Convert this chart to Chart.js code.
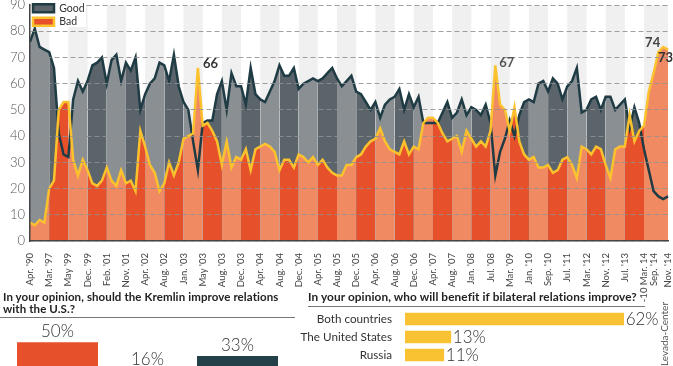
<!DOCTYPE html>
<html><head><meta charset="utf-8">
<script src="https://cdn.jsdelivr.net/npm/chart.js@4.4.1/dist/chart.umd.min.js"></script>
<style>
html,body{margin:0;padding:0;background:#fff;overflow:hidden;width:673px;height:366px;}
canvas{position:absolute;}
#main{left:0;top:0;}
#left{left:0;top:318px;}
#right{left:285px;top:308px;}
.ttl{position:absolute;font-family:Lato,'Open Sans',sans-serif;font-weight:700;color:#222;white-space:nowrap;}
#t1{left:3px;top:291px;font-size:11.5px;line-height:11.5px;letter-spacing:0.1px;}
#t2{left:308px;top:291px;font-size:11.8px;line-height:11.8px;letter-spacing:0.1px;}
.rule{position:absolute;height:1px;background:#777;}
#r1{left:0;top:317px;width:295px;}
#r2{left:308px;top:306px;width:337px;}
#src{position:absolute;left:629px;top:328px;width:70px;height:12px;line-height:12px;text-align:center;font-family:Lato,sans-serif;font-size:10px;color:#555;transform:rotate(-90deg);}
</style></head><body>
<canvas id="main" width="673" height="302"></canvas>
<div id="t1" class="ttl">In your opinion, should the Kremlin improve relations<br>with the U.S.?</div>
<div id="r1" class="rule"></div>
<canvas id="left" width="300" height="82"></canvas>
<div id="t2" class="ttl">In your opinion, who will benefit if bilateral relations improve?</div>
<div id="r2" class="rule"></div>
<canvas id="right" width="388" height="60"></canvas>
<div id="src">Levada-Center</div>
<script>
const tickLabels = ["Apr. '90","Mar. '97","May '99","Dec. '99","Feb. '01","Nov. '01","Apr. '02","Aug. '02","Jan. '03","May '03","Aug. '03","Dec. '03","Apr. '04","Aug. '04","Dec. '04","Apr. '05","Aug. '05","Dec. '05","Apr. '06","Aug. '06","Dec. '06","Apr. '07","Aug. '07","Jan. '08","Jul. '08","Mar. '09","Jan. '10","Sep. '10","Jul. '11","Mar. '12","Nov. '12","Jul. '13","7-10 Mar. 14","Sep. '14","Nov. '14"];
const tickIndex = [0,4,8,12,16,20,24,28,32,36,40,44,48,52,56,60,64,68,72,76,80,84,88,92,96,100,104,108,112,116,120,124,128,130,133];
const bandStarts = [0,4,8,12,16,20,24,28,32,36,40,44,48,52,56,60,64,68,72,76,80,84,88,92,96,100,104,108,112,116,120,124,128];

const good = [
 76,81,74,73, 72,66,41,33, 32,54,61,57, 61,67,68,70, 60,69,71,61, 68,65,70,50,
 56,60,62,68, 67,61,71,59, 53,50,38,27, 45,46,46,56, 61,50,64,59, 59,52,66,56,
 54,53,57,61, 67,63,63,66, 58,60,61,62, 61,62,64,66, 62,59,61,63, 57,56,53,50,
 53,47,52,54, 55,58,50,56, 51,55,45,45, 45,45,49,53, 47,49,54,48, 51,50,48,52,
 45,25,34,39, 46,40,48,53, 54,53,60,61, 57,62,60,54, 59,61,66,49, 50,54,55,50,
 55,55,50,52, 54,43,51,45, 35,27,19,17,16,17];
const bad = [
 7,6,8,7, 20,23,50,53, 53,31,25,31, 27,22,21,23, 28,23,21,27, 22,23,19,42,
 36,29,26,19, 22,30,25,30, 39,40,41,66, 44,45,42,38, 29,38,28,32, 31,35,27,35,
 36,37,36,34, 27,31,31,28, 33,32,30,32, 29,31,28,26, 25,25,29,29, 32,33,36,38,
 39,43,38,35, 34,33,38,33, 36,35,45,47, 47,45,41,38, 39,40,34,42, 39,36,38,36,
 42,67,52,50, 42,51,38,33, 31,32,28,28, 29,26,27,31, 32,29,24,36, 35,33,36,35,
 29,24,35,36, 36,48,38,42, 44,57,64,72,74,73];
const peakIndex = [35, 97, 132, 133];

const kremlinCats = ['A','B','C'];
const kremlinVals = [50, 16, 33];
const benefitCats = ['Both countries','The United States','Russia'];
const benefitVals = [62, 13, 11];

const categories = good.map((_, i) => { const k = tickIndex.indexOf(i); return k >= 0 ? tickLabels[k] : ''; });

const C = {lightGood:'#8a8f94', darkGood:'#5b646a', lightBad:'#f08a63', darkBad:'#e6512b',
  goodLine:'#1f3b44', badLine:'#fbc22e', stripe:'#f0f0f0'};
const FONT = 'Lato, "Open Sans", sans-serif';

const bandEnd = k => k + 1 < bandStarts.length ? bandStarts[k + 1] : good.length - 1;
const bandSeries = (src, k) => src.map((v, i) => (i >= bandStarts[k] && i <= bandEnd(k)) ? v : null);
const bandSets = (src, light, dark) => bandStarts.map((s, k) => ({
  label:'', data:bandSeries(src, k), backgroundColor: k % 2 ? dark : light,
  borderWidth:0, fill:'origin', pointRadius:0, tension:0
}));

const stripes = {
  id:'stripes',
  beforeDraw(chart){
    const {ctx, chartArea:a, scales:{x}} = chart;
    ctx.save(); ctx.fillStyle = C.stripe;
    bandStarts.forEach((s, k) => {
      if (k % 2) return;
      const x0 = x.getPixelForValue(s);
      const x1 = k + 1 < bandStarts.length ? x.getPixelForValue(bandStarts[k+1]) : a.right;
      ctx.fillRect(x0, a.top, x1 - x0, a.bottom - a.top);
    });
    ctx.restore();
  }
};
const peakLabels = {
  id:'peakLabels',
  afterDraw(chart){
    const ctx = chart.ctx, a = chart.chartArea;
    ctx.save(); ctx.fillStyle = '#fff'; ctx.fillRect(a.left + 1, 0, 55, 27); ctx.restore();
    chart.legend.draw();
    const meta = chart.getDatasetMeta(0);
    const style = [{dx:5,dy:-4,al:'left',c:'#333'},{dx:4,dy:-2,al:'left',c:'#555'},{dx:-3,dy:-4,al:'right',c:'#444'},{dx:5,dy:8,al:'right',c:'#333'}];
    ctx.save();
    ctx.font = 'bold 13px ' + FONT; ctx.textBaseline = 'middle';
    peakIndex.forEach((i, k) => {
      const p = meta.data[i], s = style[k];
      ctx.fillStyle = s.c; ctx.textAlign = s.al;
      ctx.fillText(String(bad[i]), p.x + s.dx, p.y + s.dy);
    });
    ctx.restore();
  }
};

new Chart(document.getElementById('main'), {
  type:'line',
  data:{labels:categories, datasets:[
    {label:'Bad', data:bad, borderColor:C.badLine, backgroundColor:C.darkBad, borderWidth:2.5, fill:false,
     pointRadius:0, tension:0, borderJoinStyle:'miter'},
    {label:'Good', data:good, borderColor:C.goodLine, backgroundColor:C.darkGood, borderWidth:2.5, fill:false,
     pointRadius:0, tension:0, borderJoinStyle:'miter'},
    ...bandSets(bad, C.lightBad, C.darkBad),
    ...bandSets(good, C.lightGood, C.darkGood)
  ]},
  options:{
    responsive:false, animation:false, events:[],
    layout:{padding:{top:5, right:5, left:0, bottom:0}},
    plugins:{
      filler:{drawTime:'beforeDatasetsDraw'},
      legend:{position:'chartArea', align:'start', reverse:true,
        labels:{boxWidth:21, boxHeight:8, padding:3, color:'#333', font:{family:FONT, size:10.5},
          filter: it => it.text === 'Good' || it.text === 'Bad'}},
      tooltip:{enabled:false}
    },
    scales:{
      x:{type:'category', grid:{display:false}, border:{display:true, color:'#444', width:1.5, z:1},
        ticks:{autoSkip:false, maxRotation:90, minRotation:90, padding:4, color:'#444', font:{family:FONT, size:9.5}},
        afterFit(s){ s.height = 61; s.paddingLeft = 0; s.paddingRight = 0; }},
      y:{min:0, max:90,
        ticks:{stepSize:10, padding:5, color:'#555', font:{family:FONT, size:13, weight:'300'}},
        grid:{color:'rgba(145,145,145,0.85)', lineWidth:1, z:1, drawTicks:false},
        border:{display:true, color:'#444', width:1.5, dash:[5,3], z:1},
        afterFit(s){ s.width = 30; s.paddingTop = 0; s.paddingBottom = 0; }}
    }
  },
  plugins:[stripes, peakLabels]
});

const topLabels = {
  id:'topLabels',
  afterDraw(chart){
    const ctx = chart.ctx, meta = chart.getDatasetMeta(0);
    ctx.save(); ctx.font = '300 17px ' + FONT; ctx.fillStyle = '#333'; ctx.textAlign = 'center'; ctx.textBaseline = 'bottom';
    meta.data.forEach((b, i) => ctx.fillText(kremlinVals[i] + '%', b.x, b.y - 2));
    ctx.restore();
  }
};
new Chart(document.getElementById('left'), {
  type:'bar',
  data:{labels:kremlinCats, datasets:[{data:kremlinVals, backgroundColor:['#e6512b','#9a9ea2','#24414a'], barPercentage:0.9, categoryPercentage:1}]},
  options:{responsive:false, animation:false, events:[],
    layout:{padding:{left:12.5, right:17.5, top:16, bottom:17}},
    plugins:{legend:{display:false}, tooltip:{enabled:false}},
    scales:{x:{display:false}, y:{display:false, min:0, max:60}}},
  plugins:[topLabels]
});

const endLabels = {
  id:'endLabels',
  afterDraw(chart){
    const ctx = chart.ctx, meta = chart.getDatasetMeta(0);
    ctx.save(); ctx.font = '300 17px ' + FONT; ctx.fillStyle = '#333'; ctx.textAlign = 'left'; ctx.textBaseline = 'middle';
    meta.data.forEach((b, i) => ctx.fillText(benefitVals[i] + '%', b.x + 2, b.y + 1));
    ctx.restore();
  }
};
new Chart(document.getElementById('right'), {
  type:'bar',
  data:{labels:benefitCats, datasets:[{data:benefitVals, backgroundColor:'#f9c232', barThickness:12}]},
  options:{indexAxis:'y', responsive:false, animation:false, events:[],
    layout:{padding:{top:2, bottom:4, left:0, right:0}},
    plugins:{legend:{display:false}, tooltip:{enabled:false}},
    scales:{x:{display:false, min:0, max:76},
      y:{grid:{display:false}, border:{display:false},
        ticks:{padding:5, color:'#333', font:{family:FONT, size:11.7}},
        afterFit(s){ s.width = 120; s.paddingTop = 0; s.paddingBottom = 0; }}}},
  plugins:[endLabels]
});
</script>
</body></html>
